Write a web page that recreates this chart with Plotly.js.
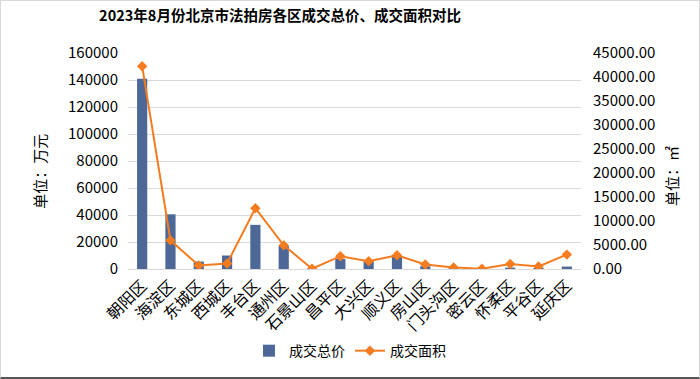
<!DOCTYPE html>
<html><head><meta charset="utf-8">
<script src="https://cdn.plot.ly/plotly-3.0.1.min.js"></script>
<style>
html,body{margin:0;padding:0;background:#fff;}
#wrap{position:relative;width:700px;height:379px;}
#chart{width:700px;height:379px;}
#frame{position:absolute;left:0;top:0;width:700px;height:379px;box-sizing:border-box;border:1px solid #d9d9d9;border-bottom:2px solid #555;pointer-events:none;}
</style></head>
<body><div id="wrap"><div id="chart"></div><div id="frame"></div></div>
<script>
const districts = ["朝阳区","海淀区","东城区","西城区","丰台区","通州区","石景山区","昌平区","大兴区","顺义区","房山区","门头沟区","密云区","怀柔区","平谷区","延庆区"];
const totalPrice = [141000,40500,5500,10000,32700,17300,300,7500,6400,10000,2000,500,300,1000,800,1800];
const totalArea = [42250,5960,740,1150,12660,4930,50,2670,1640,2880,950,330,50,1030,530,3000];
const leftTicks = [0,20000,40000,60000,80000,100000,120000,140000,160000];
const rightTicks = [0,5000,10000,15000,20000,25000,30000,35000,40000,45000];

const font = "'Noto Sans CJK SC', 'Noto Sans', sans-serif";
const traces = [
  {type:'bar', x:districts, y:totalPrice, name:'成交总价', yaxis:'y',
   marker:{color:'#4d6896', line:{width:0}}},
  {type:'scatter', mode:'lines+markers', x:districts, y:totalArea, name:'成交面积', yaxis:'y2',
   line:{color:'#f47c20', width:2}, marker:{symbol:'diamond', size:8, color:'#f47c20'}}
];
const layout = {
  width:700, height:379,
  margin:{l:128, r:119, t:53, b:107},
  paper_bgcolor:'#fff', plot_bgcolor:'#fff',
  font:{family:font, color:'#000', size:14},
  title:{text:'<b>2023年8月份北京市法拍房各区成交总价、成交面积对比</b>', x:0.4, xanchor:'center', y:0.957, yanchor:'middle', font:{size:14.5, family:font, color:'#000'}},
  bargap:0.64,
  showlegend:true,
  legend:{orientation:'h', x:0.49, xanchor:'center', y:-0.38, yanchor:'middle', font:{size:14, family:font}, itemwidth:30, tracegroupgap:0},
  xaxis:{automargin:false, range:[-0.5, districts.length-0.5], tickangle:-45, tickfont:{size:16, family:font}, showgrid:false, showline:true, linecolor:'#d9d9d9', ticks:'', fixedrange:true},
  yaxis:{automargin:false, range:[0,160000], tickvals:leftTicks, ticktext:leftTicks.map(v=>String(v)), showgrid:true, gridcolor:'#d9d9d9', gridwidth:1,
         zeroline:false, tickfont:{size:15, family:font}, ticks:'', ticklabelstandoff:9},
  yaxis2:{automargin:false, overlaying:'y', side:'right', range:[0,45000], tickvals:rightTicks, ticktext:rightTicks.map(v=>v.toFixed(2)),
          showgrid:false, zeroline:false, tickfont:{size:15, family:font}, ticks:'', ticklabelstandoff:11},
  annotations:[
    {text:'单位：万元', xref:'paper', yref:'paper', x:-88/453, y:0.45, xanchor:'center', yanchor:'middle', textangle:-90, showarrow:false, font:{size:15, family:font}},
    {text:'单位：㎡', xref:'paper', yref:'paper', x:1+90/453, y:0.43, xanchor:'center', yanchor:'middle', textangle:-90, showarrow:false, font:{size:15, family:font}}
  ]
};
Plotly.newPlot('chart', traces, layout, {displayModeBar:false, staticPlot:true});
</script></body></html>
